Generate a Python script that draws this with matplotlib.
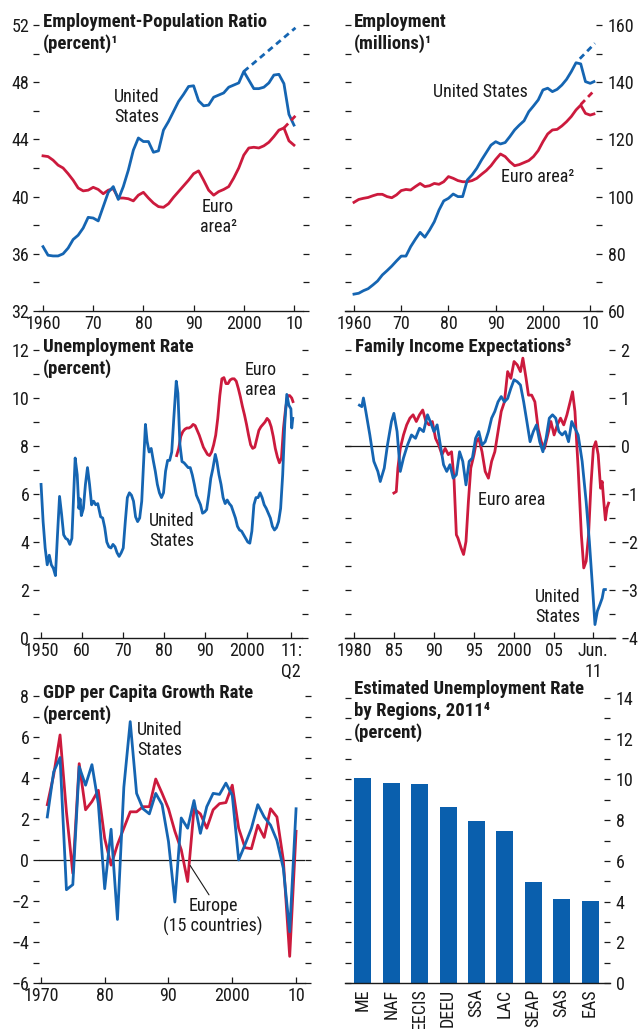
import matplotlib
matplotlib.use('Agg')
import matplotlib.pyplot as plt
from matplotlib.ticker import MultipleLocator, FixedLocator, NullLocator

plt.rcParams['font.family'] = ['Liberation Sans Narrow', 'Roboto Condensed', 'DejaVu Sans']
plt.rcParams['font.size'] = 13

BLUE = '#1565b2'
RED = '#cc1a3d'
BAR = '#0a5fad'
INK = '#1a1a1a'

# --- Employment-population ratio (percent), annual
ep_years = list(range(1960, 2011))
ep_us = [36.5, 35.9, 35.85, 35.85, 36.0, 36.4, 37.0, 37.3, 37.8, 38.55,
         38.5, 38.3, 39.3, 40.3, 40.7, 39.8, 40.7, 41.85, 43.25, 44.1,
         43.85, 43.85, 43.1, 43.2, 44.65, 45.25, 45.95, 46.65, 47.15, 47.7,
         47.75, 46.7, 46.35, 46.4, 46.95, 47.1, 47.25, 47.65, 47.8, 47.95,
         48.75, 48.15, 47.55, 47.55, 47.65, 47.95, 48.5, 48.55, 47.9, 45.75,
         45.0]
ep_euro = [42.85, 42.8, 42.55, 42.2, 42.0, 41.6, 41.15, 40.6, 40.4, 40.45,
           40.65, 40.5, 40.2, 40.45, 40.55, 39.9, 39.9, 39.85, 39.7, 40.1,
           40.3, 39.9, 39.55, 39.3, 39.25, 39.5, 39.95, 40.35, 40.75, 41.15,
           41.6, 41.8, 41.15, 40.45, 40.1, 40.35, 40.5, 40.7, 41.3, 42.0,
           42.9, 43.4, 43.45, 43.4, 43.55, 43.8, 44.2, 44.65, 44.8, 43.9,
           43.6]
ep_us_trend_x = [2000, 2010.3]
ep_us_trend = [48.75, 51.8]
ep_euro_trend_x = [2008, 2010.3]
ep_euro_trend = [44.8, 45.65]

# --- Employment (millions)
emp_years = list(range(1960, 2011)) + [2010.8]
emp_us = [65.9, 66.2, 67.1, 67.8, 69.1, 70.5, 72.6, 74.1, 75.7, 77.5,
          79.2, 79.2, 82.5, 85.1, 87.5, 85.8, 88.3, 91.2, 95.3, 98.5,
          99.4, 100.9, 100.0, 100.0, 105.8, 107.6, 109.9, 112.8, 115.4, 118.0,
          119.2, 118.4, 118.9, 121.0, 123.3, 125.0, 126.5, 129.7, 131.7, 133.8,
          137.3, 137.9, 136.7, 137.5, 139.0, 141.0, 143.7, 146.8, 146.4, 140.2,
          139.6, 140.2]
emp_euro = [98.0, 99.0, 99.4, 99.7, 100.3, 100.8, 100.8, 100.0, 99.6, 100.6,
            102.1, 102.5, 102.3, 103.5, 104.6, 103.5, 103.8, 104.6, 104.3, 105.2,
            107.0, 106.4, 105.6, 105.2, 105.2, 105.6, 106.4, 107.8, 109.1, 110.8,
            113.0, 114.9, 114.0, 112.2, 110.8, 111.2, 111.9, 112.6, 114.0, 116.1,
            119.2, 121.9, 123.3, 123.5, 124.7, 126.2, 128.0, 130.3, 132.0, 129.1,
            128.5, 128.9]
emp_us_trend_x = [2007.8, 2011.0]
emp_us_trend = [148.2, 153.6]
emp_euro_trend_x = [2008.0, 2010.8]
emp_euro_trend = [132.2, 137.0]

# --- Unemployment rate (percent)
ur_us_x = [1950.0, 1950.5, 1951.0, 1951.5, 1952.0, 1952.5, 1953.0, 1953.5, 1954.0, 1954.5,
           1955.0, 1955.5, 1956.0, 1956.5, 1957.0, 1957.5, 1958.3, 1958.8, 1959.2, 1959.5,
           1959.8, 1960.3, 1960.8, 1961.3, 1961.8, 1962.3, 1962.8, 1963.3, 1963.8, 1964.5,
           1965.0, 1965.5, 1966.0, 1966.5, 1967.0, 1967.5, 1968.0, 1968.5, 1969.0, 1969.5,
           1970.0, 1970.5, 1971.0, 1971.5, 1972.0, 1972.5, 1973.0, 1973.5, 1974.0, 1974.5,
           1975.4, 1975.8, 1976.3, 1976.8, 1977.3, 1977.8, 1978.3, 1978.8, 1979.3, 1979.8,
           1980.3, 1980.8, 1981.3, 1981.8, 1982.3, 1982.9, 1983.3, 1983.8, 1984.3, 1984.8,
           1985.3, 1985.8, 1986.3, 1986.8, 1987.3, 1987.8, 1988.3, 1988.8, 1989.3, 1989.8,
           1990.3, 1990.8, 1991.3, 1991.8, 1992.4, 1992.8, 1993.3, 1993.8, 1994.3, 1994.8,
           1995.3, 1995.8, 1996.3, 1996.8, 1997.3, 1997.8, 1998.3, 1998.8, 1999.3, 1999.8,
           2000.3, 2000.8, 2001.3, 2001.8, 2002.3, 2002.8, 2003.3, 2003.8, 2004.3, 2004.8,
           2005.3, 2005.8, 2006.3, 2006.8, 2007.3, 2007.8, 2008.3, 2008.8, 2009.3, 2009.8,
           2010.3, 2010.8, 2011.0, 2011.25]
ur_us = [6.4, 4.85, 3.75, 3.05, 3.45, 3.05, 2.9, 2.6, 4.3, 5.9,
         5.15, 4.3, 4.15, 4.1, 3.9, 4.15, 7.5, 6.8, 5.4, 5.8,
         5.1, 5.4, 6.4, 7.1, 6.4, 5.55, 5.7, 5.55, 5.6, 5.05,
         5.0, 4.6, 4.0, 3.8, 3.75, 3.9, 3.8, 3.55, 3.4, 3.55,
         3.75, 4.85, 5.85, 6.05, 5.95, 5.7, 5.05, 4.85, 5.0, 5.7,
         8.9, 8.2, 7.75, 7.9, 7.4, 6.95, 6.4, 6.05, 5.85, 6.05,
         6.95, 7.4, 7.4, 7.75, 9.15, 10.7, 10.2, 8.05, 7.35, 7.3,
         7.2, 7.1, 7.1, 6.8, 6.4, 5.95, 5.75, 5.55, 5.2, 5.25,
         5.35, 5.95, 6.65, 7.05, 7.65, 7.35, 6.8, 6.4, 5.85, 5.6,
         5.75, 5.6, 5.5, 5.25, 5.0, 4.65, 4.5, 4.45, 4.3, 4.15,
         4.0, 3.95, 4.45, 5.55, 5.85, 5.85, 6.05, 5.85, 5.55, 5.4,
         5.2, 5.0, 4.65, 4.5, 4.6, 4.85, 5.4, 6.8, 8.9, 10.15,
         9.7, 9.55, 8.75, 9.15]
ur_euro_x = [1983.0, 1983.5, 1984.0, 1984.5, 1985.0, 1985.5, 1986.0, 1986.5, 1987.0, 1987.5,
             1988.0, 1988.5, 1989.0, 1989.5, 1990.0, 1990.5, 1991.0, 1991.5, 1992.0, 1992.5,
             1993.0, 1993.5, 1994.0, 1994.5, 1995.0, 1995.5, 1996.0, 1996.5, 1997.0, 1997.5,
             1998.0, 1998.5, 1999.0, 1999.5, 2000.0, 2000.5, 2001.0, 2001.5, 2002.0, 2002.5,
             2003.0, 2003.5, 2004.0, 2004.5, 2005.0, 2005.5, 2006.0, 2006.5, 2007.0, 2007.5,
             2008.0, 2008.5, 2009.0, 2009.5, 2010.0, 2010.5, 2011.0, 2011.3]
ur_euro = [7.6, 7.9, 8.4, 8.6, 8.7, 8.75, 8.75, 8.8, 8.9, 8.85,
           8.65, 8.45, 8.2, 7.95, 7.8, 7.65, 7.6, 7.75, 8.05, 8.45,
           9.15, 10.1, 10.8, 10.85, 10.6, 10.6, 10.75, 10.8, 10.8, 10.7,
           10.4, 10.05, 9.65, 9.3, 8.9, 8.45, 8.05, 7.9, 7.95, 8.3,
           8.65, 8.8, 8.9, 9.0, 9.15, 9.05, 8.8, 8.4, 7.9, 7.55,
           7.3, 7.5, 8.75, 9.55, 10.1, 10.1, 10.0, 9.85]

# --- Family income expectations
fi_us_x = [1980.7, 1981.0, 1981.2, 1981.5, 1982.0, 1982.5, 1983.0, 1983.3, 1983.8, 1984.2,
           1984.7, 1985.0, 1985.4, 1985.8, 1986.2, 1986.7, 1987.2, 1987.7, 1988.2, 1988.7,
           1989.2, 1989.7, 1990.0, 1990.4, 1990.8, 1991.2, 1991.6, 1992.0, 1992.4, 1992.8,
           1993.2, 1993.6, 1994.0, 1994.4, 1994.8, 1995.2, 1995.6, 1996.0, 1996.4, 1996.8,
           1997.2, 1997.6, 1998.0, 1998.4, 1998.8, 1999.2, 1999.6, 2000.0, 2000.4, 2000.8,
           2001.2, 2001.6, 2002.0, 2002.4, 2002.8, 2003.2, 2003.6, 2004.0, 2004.4, 2004.8,
           2005.2, 2005.6, 2006.0, 2006.4, 2006.8, 2007.2, 2007.6, 2008.0, 2008.5, 2009.0,
           2009.4, 2009.8, 2010.1, 2010.4, 2010.7, 2011.0, 2011.2, 2011.4]
fi_us = [0.85, 0.82, 1.0, 0.72, 0.23, -0.32, -0.53, -0.74, -0.46, 0.02,
         0.51, 0.68, 0.3, -0.53, -0.25, 0.02, 0.23, 0.16, 0.37, 0.3,
         0.65, 0.44, 0.3, 0.44, 0.02, -0.39, -0.53, -0.39, -0.67, -0.6,
         -0.12, -0.32, -0.81, -0.32, -0.25, 0.16, 0.3, 0.02, 0.09, 0.3,
         0.58, 0.72, 0.92, 1.03, 0.92, 0.99, 1.2, 1.38, 1.34, 1.27,
         0.92, 0.51, 0.09, 0.3, 0.44, 0.09, -0.12, 0.16, 0.58, 0.65,
         0.58, 0.3, 0.23, 0.3, 0.09, 0.51, 0.37, 0.23, -0.32, -1.16,
         -1.99, -2.96, -3.72, -3.44, -3.31, -3.17, -2.99, -2.99]
fi_euro_x = [1985.0, 1985.3, 1985.5, 1985.8, 1986.2, 1986.6, 1987.0, 1987.4, 1987.8, 1988.2,
             1988.6, 1989.0, 1989.4, 1989.8, 1990.2, 1990.6, 1991.0, 1991.4, 1991.8, 1992.2,
             1992.5, 1992.8, 1993.0, 1993.4, 1993.7, 1994.0, 1994.3, 1994.6, 1995.0, 1995.3,
             1995.6, 1996.0, 1996.4, 1996.8, 1997.2, 1997.6, 1998.0, 1998.4, 1998.8, 1999.2,
             1999.6, 2000.0, 2000.4, 2000.8, 2001.1, 2001.5, 2001.8, 2002.2, 2002.6, 2003.0,
             2003.4, 2003.8, 2004.2, 2004.6, 2005.0, 2005.4, 2005.8, 2006.2, 2006.6, 2007.0,
             2007.3, 2007.6, 2008.0, 2008.4, 2008.7, 2009.0, 2009.3, 2009.6, 2009.9, 2010.2,
             2010.5, 2010.8, 2011.0, 2011.2, 2011.4, 2011.6, 2011.8]
fi_euro = [-0.98, -0.95, -0.46, -0.05, 0.23, 0.44, 0.58, 0.65, 0.51, 0.65,
           0.75, 0.51, 0.44, 0.51, 0.16, 0.02, -0.18, -0.05, -0.18, -0.12,
           -0.67, -1.85, -1.92, -2.13, -2.26, -1.99, -1.16, -0.46, -0.18, 0.09,
           0.16, -0.12, -0.53, -0.67, -0.32, -0.12, 0.3, 0.72, 0.92, 1.55,
           1.41, 1.76, 1.69, 1.55, 1.83, 1.41, 1.06, 1.06, 0.92, 0.37,
           0.09, -0.05, 0.23, 0.51, 0.23, 0.44, 0.58, 0.44, 0.65, 0.92,
           1.13, 0.72, -0.46, -1.85, -2.54, -2.4, -1.85, -0.81, -0.05, 0.09,
           -0.18, -0.88, -0.74, -1.16, -1.54, -1.29, -1.19]

# --- GDP per capita growth (percent), annual
gdp_years = list(range(1971, 2011))
gdp_us = [2.1, 4.3, 5.0, -1.45, -1.2, 4.55, 3.65, 4.65, 2.75, -1.4,
          1.5, -2.9, 3.55, 6.75, 3.25, 2.5, 2.25, 3.25, 2.7, 0.9,
          -2.05, 2.05, 1.55, 2.9, 1.3, 2.6, 3.25, 3.2, 3.75, 3.15,
          0.0, 0.75, 1.55, 2.7, 2.1, 1.7, 0.95, -0.4, -3.5, 2.5]
gdp_europe = [2.7, 4.15, 6.1, 2.35, -0.65, 4.7, 2.45, 2.85, 3.4, 1.05,
              -0.25, 0.75, 1.55, 2.35, 2.35, 2.6, 2.6, 3.95, 3.25, 2.5,
              1.4, 0.5, -1.05, 2.5, 2.25, 1.55, 2.45, 2.75, 2.8, 3.65,
              1.55, 0.6, 0.55, 1.7, 1.1, 2.5, 2.1, 0.0, -4.7, 1.4]

# --- Estimated unemployment rate by region, 2011
regions = ['ME', 'NAF', 'EECIS', 'DEEU', 'SSA', 'LAC', 'SEAP', 'SAS', 'EAS']
region_rate = [10.05, 9.85, 9.77, 8.63, 7.96, 7.47, 4.97, 4.13, 4.04]

W, H = 638, 1029
fig = plt.figure(figsize=(W / 100, H / 100), dpi=100)


def panel(l, t, r, b):
    return fig.add_axes([l / W, 1 - b / H, (r - l) / W, (b - t) / H])


def style(ax, label_side, major, minor):
    for s in ['left', 'right', 'top']:
        ax.spines[s].set_visible(False)
    ax.spines['bottom'].set_linewidth(1.0)
    ax.spines['bottom'].set_color(INK)
    ax.yaxis.set_major_locator(MultipleLocator(major))
    ax.yaxis.set_minor_locator(MultipleLocator(minor))
    ax.xaxis.set_minor_locator(NullLocator())
    ax.tick_params(axis='x', direction='in', length=4, width=0.9, pad=3,
                   colors=INK, labelsize=13)
    if label_side == 'left':
        ax.tick_params(axis='y', which='both', left=True, right=True,
                       labelleft=True, labelright=False, length=4, width=0.9,
                       pad=3, colors=INK, labelsize=13)
        ax.tick_params(axis='y', which='both', direction='out')
    else:
        ax.tick_params(axis='y', which='both', left=True, right=True,
                       labelleft=False, labelright=True, length=4, width=0.9,
                       direction='in', pad=4, colors=INK, labelsize=13)


def title(x, y, s):
    fig.text(x / W, 1 - y / H, s, fontsize=13.5, fontweight='bold',
             va='top', ha='left', color=INK, linespacing=1.25)


def label(ax, x, y, s, **kw):
    ax.text(x, y, s, fontsize=13, color=INK, linespacing=1.15, **kw)


lw = 2.0

# Panel 1
ax1 = panel(39, 25, 303, 311)
ax1.plot(ep_years, ep_euro, color=RED, lw=lw)
ax1.plot(ep_years, ep_us, color=BLUE, lw=lw)
ax1.plot(ep_us_trend_x, ep_us_trend, color=BLUE, lw=lw, ls=(0, (2.2, 1.6)))
ax1.plot(ep_euro_trend_x, ep_euro_trend, color=RED, lw=lw, ls=(0, (2.2, 1.6)))
ax1.set_xlim(1959.2, 2011.8)
ax1.set_ylim(32, 52)
ax1.xaxis.set_major_locator(FixedLocator([1960, 1970, 1980, 1990, 2000, 2010]))
ax1.set_xticklabels(['1960', '70', '80', '90', '2000', '10'])
style(ax1, 'left', 4, 2)
label(ax1, 1978.7, 46.25, 'United\nStates', ha='center', va='center')
label(ax1, 1994.9, 38.6, 'Euro\narea²', ha='center', va='center')
title(43, 13, 'Employment-Population Ratio\n(percent)¹')

# Panel 2
ax2 = panel(345, 25, 602, 311)
ax2.plot(emp_years, emp_euro, color=RED, lw=lw)
ax2.plot(emp_years, emp_us, color=BLUE, lw=lw)
ax2.plot(emp_us_trend_x, emp_us_trend, color=BLUE, lw=lw, ls=(0, (2.2, 1.6)))
ax2.plot(emp_euro_trend_x, emp_euro_trend, color=RED, lw=lw, ls=(0, (2.2, 1.6)))
ax2.set_xlim(1958.1, 2012.5)
ax2.set_ylim(60, 160)
ax2.xaxis.set_major_locator(FixedLocator([1960, 1970, 1980, 1990, 2000, 2010]))
ax2.set_xticklabels(['1960', '70', '80', '90', '2000', '10'])
style(ax2, 'right', 20, 10)
label(ax2, 1976.7, 136.6, 'United States', ha='left', va='center')
label(ax2, 1991.1, 106.9, 'Euro area²', ha='left', va='center')
title(354, 13, 'Employment\n(millions)¹')

# Panel 3
ax3 = panel(39, 350, 302, 638)
ax3.plot(ur_euro_x, ur_euro, color=RED, lw=lw)
ax3.plot(ur_us_x, ur_us, color=BLUE, lw=lw)
ax3.set_xlim(1949.5, 2013.5)
ax3.set_ylim(0, 12)
ax3.xaxis.set_major_locator(FixedLocator([1950, 1960, 1970, 1980, 1990, 2000, 2010.9]))
ax3.set_xticklabels(['1950', '60', '70', '80', '90', '2000', '11:\nQ2'])
style(ax3, 'left', 2, 1)
label(ax3, 2003.5, 10.75, 'Euro\narea', ha='center', va='center')
label(ax3, 1981.7, 4.45, 'United\nStates', ha='center', va='center')
title(43, 338, 'Unemployment Rate\n(percent)')

# Panel 4
ax4 = panel(345, 350, 615, 638)
ax4.axhline(0, color=INK, lw=0.9)
ax4.plot(fi_euro_x, fi_euro, color=RED, lw=lw)
ax4.plot(fi_us_x, fi_us, color=BLUE, lw=lw)
ax4.set_xlim(1978.9, 2012.6)
ax4.set_ylim(-4, 2)
ax4.xaxis.set_major_locator(FixedLocator([1980, 1985, 1990, 1995, 2000, 2005, 2009.9]))
ax4.set_xticklabels(['1980', '85', '90', '95', '2000', '05', 'Jun.\n11'])
style(ax4, 'right', 1, 0.5)
label(ax4, 1995.5, -1.12, 'Euro area', ha='left', va='center')
label(ax4, 2002.6, -3.36, 'United\nStates', ha='left', va='center')
title(355, 338, 'Family Income Expectations³')

# Panel 5
ax5 = panel(39, 696, 305, 983)
ax5.axhline(0, color=INK, lw=0.9)
ax5.plot(gdp_years, gdp_europe, color=RED, lw=lw)
ax5.plot(gdp_years, gdp_us, color=BLUE, lw=lw)
ax5.set_xlim(1969.7, 2011.4)
ax5.set_ylim(-6, 8)
ax5.xaxis.set_major_locator(FixedLocator([1970, 1980, 1990, 2000, 2010]))
ax5.set_xticklabels(['1970', '80', '90', '2000', '10'])
style(ax5, 'left', 2, 1)
label(ax5, 1985.1, 5.85, 'United\nStates', ha='left', va='center')
ax5.annotate('', xy=(1993.4, -0.27), xytext=(1996.35, -1.7),
             arrowprops=dict(arrowstyle='-', color=INK, lw=0.8,
                             shrinkA=0, shrinkB=0))
label(ax5, 1997.0, -2.75, 'Europe\n(15 countries)', ha='center', va='center')
title(43, 684, 'GDP per Capita Growth Rate\n(percent)')

# Panel 6
ax6 = panel(345, 696, 610, 983)
ax6.bar(range(len(regions)), region_rate, width=0.6, color=BAR)
ax6.set_xlim(-0.63, 8.7)
ax6.set_ylim(0, 14.1)
ax6.set_xticks(range(len(regions)))
ax6.set_xticklabels(regions, rotation=90)
style(ax6, 'right', 2, 1)
ax6.tick_params(axis='x', length=0, pad=4)
title(354, 680, 'Estimated Unemployment Rate\nby Regions, 2011⁴\n(percent)')

fig.savefig('out.png', dpi=100)
